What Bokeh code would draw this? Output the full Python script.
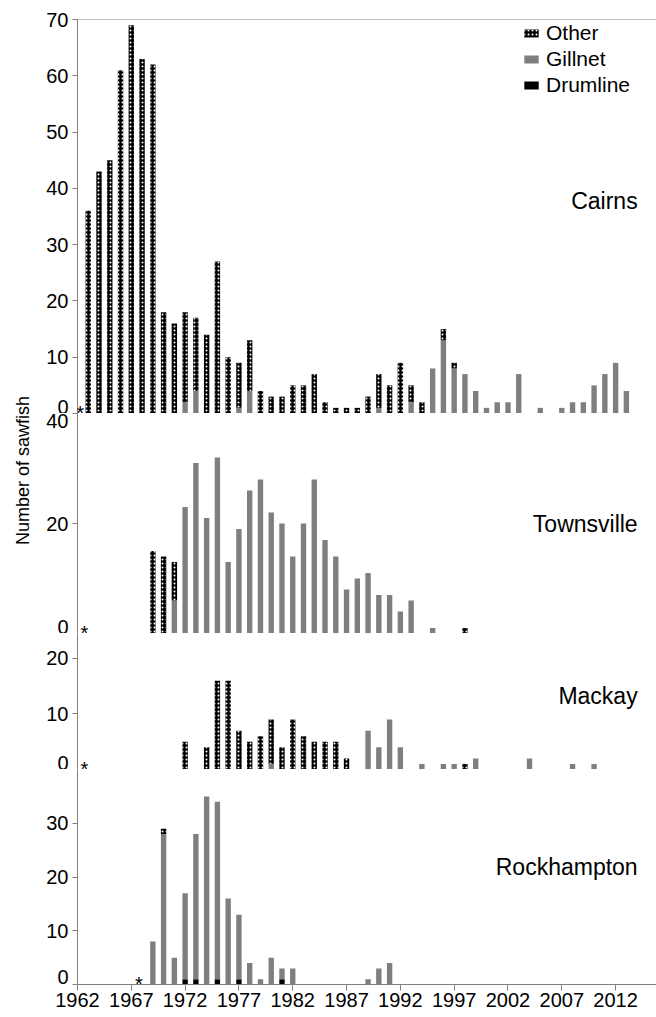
import math
from bokeh.plotting import figure
from bokeh.models import (ColumnDataSource, FixedTicker, Label, Span, Legend,
                          LegendItem, Range1d)
from bokeh.layouts import column, row
from bokeh.embed import file_html
from bokeh.resources import INLINE

# ---------------- data ----------------
YEARS = list(range(1963, 2014))
X_TICKS = [1962, 1967, 1972, 1977, 1982, 1987, 1992, 1997, 2002, 2007, 2012]

#                 1963-67            1968-72            1973-77            1978-82           1983-87          1988-92          1993-97          1998-02          2003-07          2008-12         2013
cairns_other    = [36, 43, 45, 61, 69, 63, 62, 18, 16, 16, 13, 14, 27, 10, 8, 9, 4, 3, 3, 5, 5, 7, 2, 1, 1, 1, 3, 6, 5, 9, 3, 2, 0, 2, 1, 0, 0, 0, 0, 0, 0, 0, 0, 0, 0, 0, 0, 0, 0, 0, 0]
cairns_gillnet  = [0, 0, 0, 0, 0, 0, 0, 0, 0, 2, 4, 0, 0, 0, 1, 4, 0, 0, 0, 0, 0, 0, 0, 0, 0, 0, 0, 1, 0, 0, 2, 0, 8, 13, 8, 7, 4, 1, 2, 2, 7, 0, 1, 0, 1, 2, 2, 5, 7, 9, 4]
cairns_drumline = [0, 0, 0, 0, 0, 0, 0, 0, 0, 0, 0, 0, 0, 0, 0, 0, 0, 0, 0, 0, 0, 0, 0, 0, 0, 0, 0, 0, 0, 0, 0, 0, 0, 0, 0, 0, 0, 0, 0, 0, 0, 0, 0, 0, 0, 0, 0, 0, 0, 0, 0]

townsville_other    = [0, 0, 0, 0, 0, 0, 15, 14, 7, 0, 0, 0, 0, 0, 0, 0, 0, 0, 0, 0, 0, 0, 0, 0, 0, 0, 0, 0, 0, 0, 0, 0, 0, 0, 0, 1, 0, 0, 0, 0, 0, 0, 0, 0, 0, 0, 0, 0, 0, 0, 0]
townsville_gillnet  = [0, 0, 0, 0, 0, 0, 0, 0, 6, 23, 31, 21, 32, 13, 19, 26, 28, 22, 20, 14, 20, 28, 17, 14, 8, 10, 11, 7, 7, 4, 6, 0, 1, 0, 0, 0, 0, 0, 0, 0, 0, 0, 0, 0, 0, 0, 0, 0, 0, 0, 0]
townsville_drumline = [0, 0, 0, 0, 0, 0, 0, 0, 0, 0, 0, 0, 0, 0, 0, 0, 0, 0, 0, 0, 0, 0, 0, 0, 0, 0, 0, 0, 0, 0, 0, 0, 0, 0, 0, 0, 0, 0, 0, 0, 0, 0, 0, 0, 0, 0, 0, 0, 0, 0, 0]

mackay_other    = [0, 0, 0, 0, 0, 0, 0, 0, 0, 5, 0, 4, 16, 16, 7, 5, 6, 8, 4, 9, 6, 5, 5, 5, 2, 0, 0, 0, 0, 0, 0, 0, 0, 0, 0, 1, 0, 0, 0, 0, 0, 0, 0, 0, 0, 0, 0, 0, 0, 0, 0]
mackay_gillnet  = [0, 0, 0, 0, 0, 0, 0, 0, 0, 0, 0, 0, 0, 0, 0, 0, 0, 1, 0, 0, 0, 0, 0, 0, 0, 0, 7, 4, 9, 4, 0, 1, 0, 1, 1, 0, 2, 0, 0, 0, 0, 2, 0, 0, 0, 1, 0, 1, 0, 0, 0]
mackay_drumline = [0, 0, 0, 0, 0, 0, 0, 0, 0, 0, 0, 0, 0, 0, 0, 0, 0, 0, 0, 0, 0, 0, 0, 0, 0, 0, 0, 0, 0, 0, 0, 0, 0, 0, 0, 0, 0, 0, 0, 0, 0, 0, 0, 0, 0, 0, 0, 0, 0, 0, 0]

rock_other    = [0, 0, 0, 0, 0, 0, 0, 1, 0, 0, 0, 0, 0, 0, 0, 0, 0, 0, 0, 0, 0, 0, 0, 0, 0, 0, 0, 0, 0, 0, 0, 0, 0, 0, 0, 0, 0, 0, 0, 0, 0, 0, 0, 0, 0, 0, 0, 0, 0, 0, 0]
rock_gillnet  = [0, 0, 0, 0, 0, 0, 8, 28, 5, 16, 27, 35, 33, 16, 12, 4, 1, 5, 2, 3, 0, 0, 0, 0, 0, 0, 1, 3, 4, 0, 0, 0, 0, 0, 0, 0, 0, 0, 0, 0, 0, 0, 0, 0, 0, 0, 0, 0, 0, 0, 0]
rock_drumline = [0, 0, 0, 0, 0, 0, 0, 0, 0, 1, 1, 0, 1, 0, 1, 0, 0, 0, 1, 0, 0, 0, 0, 0, 0, 0, 0, 0, 0, 0, 0, 0, 0, 0, 0, 0, 0, 0, 0, 0, 0, 0, 0, 0, 0, 0, 0, 0, 0, 0, 0]

REGIONS = ["Cairns", "Townsville", "Mackay", "Rockhampton"]
Y_TICKS = {"Cairns": [0, 10, 20, 30, 40, 50, 60, 70],
           "Townsville": [0, 20, 40],
           "Mackay": [0, 10, 20],
           "Rockhampton": [0, 10, 20, 30]}
Y_MAX = {"Cairns": 70, "Townsville": 40, "Mackay": 24.5, "Rockhampton": 40}
STAR_YEAR = {"Cairns": 1962.25, "Townsville": 1962.65, "Mackay": 1962.65, "Rockhampton": 1967.7}

# ---------------- style ----------------
FONT = "Liberation Sans"
GRAY = "#7f7f7f"
AXIS = "#808080"
X0, X1 = 1962, 2015.8
FIG_W = 616
BORDER_L = 37

layout_spec = {
    "Cairns":      dict(height=413, top=19, bottom=0, label_y=37.8),
    "Townsville":  dict(height=220, top=0, bottom=0, label_y=20),
    "Mackay":      dict(height=136, top=0, bottom=0, label_y=13.3),
    "Rockhampton": dict(height=248, top=0, bottom=33, label_y=21.8),
}
series = {
    "Cairns": (cairns_other, cairns_gillnet, cairns_drumline),
    "Townsville": (townsville_other, townsville_gillnet, townsville_drumline),
    "Mackay": (mackay_other, mackay_gillnet, mackay_drumline),
    "Rockhampton": (rock_other, rock_gillnet, rock_drumline),
}

x_range = Range1d(X0, X1)
figs = []
legend_renderers = None
for name in REGIONS:
    spec = layout_spec[name]
    other, gill, drum = series[name]
    is_bottom = name == "Rockhampton"
    p = figure(width=FIG_W, height=spec["height"], x_range=x_range,
               y_range=Range1d(0, Y_MAX[name]), output_backend="svg",
               toolbar_location=None,
               x_axis_location="below" if is_bottom else None,
               min_border_left=BORDER_L, min_border_right=0,
               min_border_top=spec["top"], min_border_bottom=spec["bottom"],
               outline_line_color=None, background_fill_color="white",
               border_fill_color="white")
    p.grid.visible = False
    src = ColumnDataSource(dict(year=YEARS, drumline=drum, gillnet=gill, other=other))
    rs = p.vbar_stack(["drumline", "gillnet", "other"], x="year", width=0.5,
                      source=src, line_color=None,
                      fill_color=["black", GRAY, "black"],
                      hatch_pattern=[None, None, "dot"],
                      hatch_color="white", hatch_scale=4, hatch_weight=3)
    if name == "Cairns":
        legend_renderers = rs

    yax = p.yaxis[0]
    yax.ticker = FixedTicker(ticks=Y_TICKS[name])
    if is_bottom:
        # lift the bottom "0" slightly, as in the original
        yax.major_label_overrides = {0: "0\n "}
        yax.major_label_text_line_height = 0.7
    yax.axis_line_color = AXIS
    yax.major_tick_line_color = AXIS
    yax.major_tick_out = 5
    yax.major_tick_in = 0
    yax.minor_tick_line_color = None
    yax.major_label_standoff = 4
    yax.major_label_text_font = FONT
    yax.major_label_text_font_size = "20px"
    yax.major_label_text_color = "black"

    if is_bottom:
        xax = p.xaxis[0]
        xax.ticker = FixedTicker(ticks=X_TICKS)
        xax.axis_line_color = AXIS
        xax.major_tick_line_color = AXIS
        xax.major_tick_out = 6
        xax.major_tick_in = 0
        xax.minor_tick_line_color = None
        xax.major_label_standoff = 2
        xax.major_label_text_font = FONT
        xax.major_label_text_font_size = "20px"
        xax.major_label_text_color = "black"
    else:
        p.add_layout(Span(location=0, dimension="width", line_color=AXIS, line_width=1))
    if name == "Cairns":
        p.add_layout(Span(location=70, dimension="width", line_color=AXIS, line_width=1))

    # program-start asterisk
    p.add_layout(Label(x=STAR_YEAR[name], y=0, text="*", text_align="center",
                       text_baseline="middle", y_offset=1, text_font=FONT,
                       text_font_size="20px", text_color="black"))

    # region name
    p.add_layout(Label(x=2014.05, y=spec["label_y"], text=name, text_align="right",
                       text_baseline="middle", text_font=FONT,
                       text_font_size="23px", text_color="black"))
    figs.append(p)

# legend in the Cairns panel
d_r, g_r, o_r = legend_renderers
legend = Legend(items=[LegendItem(label="Other", renderers=[o_r]),
                       LegendItem(label="Gillnet", renderers=[g_r]),
                       LegendItem(label="Drumline", renderers=[d_r])],
                location=(445, 316), padding=0, margin=0, spacing=2,
                glyph_width=18, glyph_height=10, label_standoff=6,
                label_text_font=FONT, label_text_font_size="21px",
                label_text_color="black", border_line_color=None,
                background_fill_alpha=0)
figs[0].add_layout(legend)

# y-axis title in a narrow side panel
lab = figure(width=40, height=1017, x_range=Range1d(0, 40), y_range=Range1d(0, 1017),
             output_backend="svg", toolbar_location=None, x_axis_location=None,
             y_axis_location=None, outline_line_color=None, min_border=0)
lab.grid.visible = False
lab.add_layout(Label(x=22, y=1017 - 470, text="Number of sawfish", angle=math.pi / 2,
                     text_align="center", text_baseline="middle", text_font=FONT,
                     text_font_size="18px", text_color="black"))

layout = row(lab, column(*figs, spacing=0), spacing=0)
open("out.html", "w").write(file_html(layout, INLINE))
